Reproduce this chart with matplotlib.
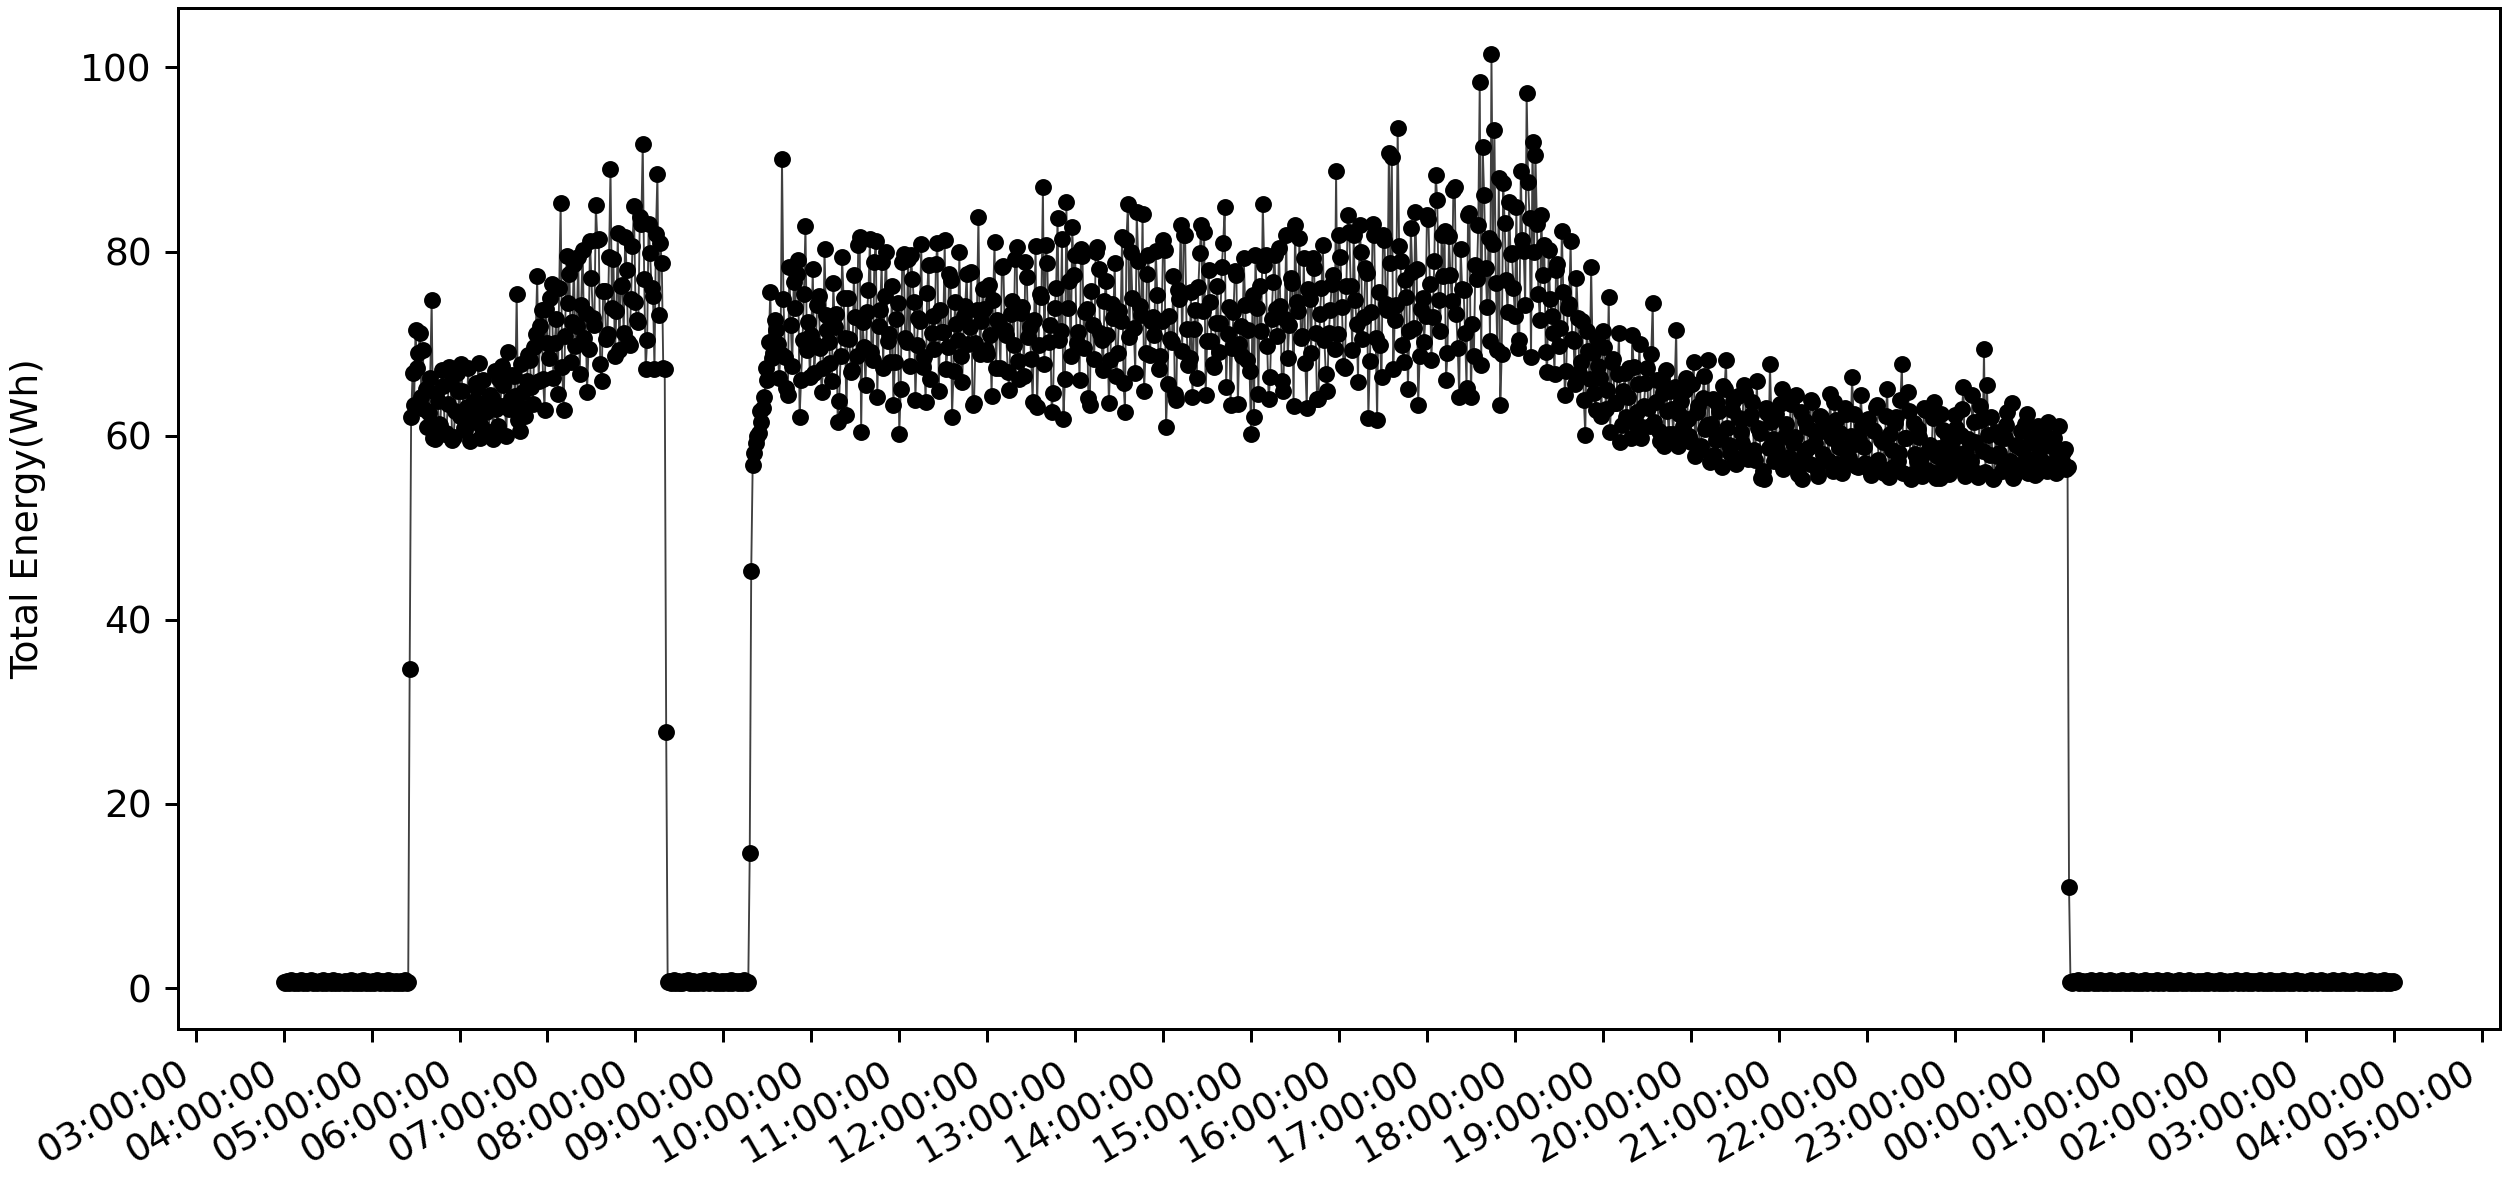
"""
Daily energy profile: total energy per 1-minute interval over 24 hours
"""
import pandas as pd
import matplotlib
matplotlib.use("Agg")
import matplotlib.pyplot as plt
import matplotlib.dates as mdates

# ---------- Data (1-minute samples) ----------
STEP = "1min"

# 04:00 - 05:25, system idle
off_early_start = "2022-03-01 04:00:00"
off_early = [
    0.7, 0.6, 0.8, 0.7, 0.6, 0.9, 0.7, 0.6, 0.8, 0.7, 0.6, 0.7, 0.9, 0.6, 0.7, 0.8, 0.6, 0.7, 0.7, 0.9,
    0.6, 0.8, 0.7, 0.6, 0.7, 0.8, 0.6, 0.9, 0.7, 0.6, 0.8, 0.7, 0.6, 0.7, 0.9, 0.6, 0.7, 0.8, 0.6, 0.7,
    0.7, 0.6, 0.8, 0.7, 0.6, 0.7, 0.9, 0.6, 0.8, 0.7, 0.6, 0.7, 0.8, 0.6, 0.9, 0.7, 0.6, 0.8, 0.7, 0.6,
    0.7, 0.8, 0.6, 0.7, 0.9, 0.7, 0.6, 0.8, 0.7, 0.6, 0.7, 0.9, 0.6, 0.8, 0.7, 0.6, 0.7, 0.8, 0.6, 0.7,
    0.8, 0.6, 0.7, 0.9, 0.6, 0.7,
]

# 05:26 - 08:21, morning run
on_morning_start = "2022-03-01 05:26:00"
on_morning = [
    34.7,
    62.0, 66.8, 63.3, 71.5, 67.4, 69.0, 71.2, 64.2, 69.3, 62.9, 65.1, 60.9, 62.5, 66.3, 74.7, 59.8, 59.6, 64.6, 63.8, 61.3,
    61.2, 67.1, 65.4, 60.2, 60.3, 63.4, 67.5, 65.7, 59.5, 59.9, 62.7, 66.8, 64.9, 62.1, 67.8, 64.9, 60.8, 60.6, 63.1, 67.4,
    59.4, 61.5, 62.2, 63.8, 65.7, 65.2, 67.9, 59.7, 61.0, 66.0, 63.6, 62.6, 60.2, 60.4, 64.4, 64.1, 59.6, 67.0, 62.9, 61.1,
    66.1, 63.2, 67.6, 65.5, 63.2, 60.0, 69.1, 62.9, 64.0, 66.6, 66.5, 64.3, 75.4, 61.7, 60.5, 67.8, 64.7, 63.0, 62.1, 65.9,
    68.8, 68.2, 65.3, 63.4, 69.6, 71.0, 77.3, 65.9, 71.9, 73.6, 66.2, 62.8, 73.8, 70.1, 68.4, 74.9, 76.5, 66.3, 70.1, 72.7,
    64.5, 76.0, 85.3, 67.5, 62.8, 70.8, 79.5, 74.4, 77.6, 68.0, 72.3, 78.6, 69.7, 71.9, 79.4, 66.7, 74.2, 80.2, 70.6, 73.3,
    64.7, 69.4, 81.1, 77.1, 72.8, 72.0, 85.0, 81.3, 81.4, 67.8, 65.9, 75.7, 75.7, 70.5, 71.0, 79.4, 89.0, 73.9, 79.2, 68.6,
    73.5, 82.0, 69.3, 76.3, 76.4, 71.2, 81.6, 78.0, 70.2, 69.9, 74.8, 80.6, 84.9, 74.5, 72.6, 72.3, 83.7, 83.0, 91.7, 77.0,
    67.2, 70.4, 83.0, 79.8, 76.0, 75.2, 67.2, 81.9, 88.4, 73.1, 80.9, 78.7, 67.3, 67.2,
    27.8,
]

# 08:22 - 09:17, pause
off_mid_start = "2022-03-01 08:22:00"
off_mid = [
    0.7, 0.8, 0.6, 0.7, 0.9, 0.6, 0.7, 0.8, 0.6, 0.7, 0.6, 0.8, 0.7, 0.7, 0.9, 0.6, 0.7, 0.8, 0.6, 0.7,
    0.7, 0.6, 0.8, 0.7, 0.6, 0.9, 0.7, 0.8, 0.6, 0.7, 0.7, 0.9, 0.6, 0.8, 0.7, 0.6, 0.7, 0.8, 0.6, 0.7,
    0.8, 0.6, 0.7, 0.9, 0.6, 0.7, 0.8, 0.7, 0.6, 0.8, 0.7, 0.6, 0.9, 0.7, 0.6, 0.7,
]

# 09:18 - 00:18, main run
on_day_start = "2022-03-01 09:18:00"
on_day = [
    14.7, 45.3,
    56.8, 58.1, 59.2, 60.0, 60.3, 62.7, 61.5, 63.0, 64.2, 67.3, 66.0, 70.2, 75.6, 68.4, 69.0, 72.6, 71.5, 70.0,
    66.3, 68.9, 90.0, 74.8, 68.5, 65.2, 64.4, 78.3, 72.0, 67.6, 76.7, 73.9, 77.6, 79.1, 62.0, 66.0, 70.4, 75.4,
    82.8, 69.3,
    # ~10:00
    72.3, 66.4, 70.9, 78.1, 66.8, 69.8, 74.2, 75.2, 69.5, 64.7, 67.3, 80.3, 73.1, 71.5, 70.2, 67.9, 65.9, 76.6, 71.8, 73.2,
    61.5, 63.8, 68.7, 79.4, 74.9, 70.6, 62.2, 74.9, 70.5, 66.9, 67.1, 77.5, 72.9, 68.7, 80.7, 81.6, 60.4, 72.3, 69.6, 65.5,
    73.4, 75.8, 81.4, 69.1, 68.2, 78.9, 81.1, 64.2, 71.9, 73.7, 78.9, 67.3, 75.2, 80.0, 70.3, 71.0, 68.0, 76.2, 63.3, 68.0,
    # ~11:00
    72.7, 74.4, 60.2, 65.1, 78.9, 79.7, 70.6, 70.2, 79.2, 67.6, 79.6, 77.0, 74.5, 63.9, 69.9, 72.8, 72.4, 80.8, 67.5, 68.5,
    63.7, 75.5, 78.5, 66.2, 71.2, 73.0, 69.4, 78.6, 80.9, 64.9, 73.6, 71.3, 71.3, 81.2, 67.2, 69.6, 77.6, 76.9, 62.0, 67.0,
    74.5, 72.1, 70.4, 79.9, 68.6, 65.8, 73.0, 74.1, 77.6, 70.0, 71.8, 77.8, 63.3, 63.5, 70.1, 73.6, 83.8, 68.9, 72.5, 75.9,
    # ~12:00
    73.8, 69.3, 68.9, 76.4, 70.9, 64.3, 74.7, 81.0, 67.4, 72.6, 72.1, 67.4, 78.3, 78.4, 71.5, 70.9, 66.9, 65.0, 73.2, 74.6,
    69.8, 79.2, 80.5, 68.1, 66.2, 73.3, 74.0, 66.5, 78.9, 77.2, 70.7, 71.8, 68.3, 63.7, 72.6, 80.6, 63.1, 69.9, 75.4, 75.1,
    87.0, 67.8, 80.7, 78.7, 70.2, 72.0, 62.6, 64.6, 73.9, 76.0, 83.6, 70.4, 71.4, 81.4, 61.8, 66.1, 85.4, 73.9, 76.8, 68.6,
    # ~13:00
    82.7, 77.4, 79.6, 70.1, 71.3, 66.0, 80.3, 79.5, 69.5, 73.4, 73.8, 64.1, 63.3, 75.7, 72.0, 68.3, 80.0, 80.5, 78.1, 71.2,
    70.4, 67.1, 74.6, 76.8, 70.9, 63.6, 68.2, 74.3, 72.8, 78.8, 66.5, 69.0, 73.5, 72.5, 81.6, 65.7, 62.6, 81.3, 85.2, 70.7,
    80.0, 75.0, 71.7, 66.8, 84.3, 79.0, 74.1, 73.1, 84.1, 64.8, 69.0, 77.6, 79.6, 68.8, 72.4, 72.9, 70.9, 80.1, 75.3, 67.2,
    # ~14:00
    68.7, 72.4, 81.2, 80.2, 60.9, 65.6, 73.0, 70.5, 70.2, 77.3, 64.5, 63.9, 75.8, 74.8, 82.9, 69.2, 81.8, 81.8, 71.6, 67.7,
    68.4, 75.6, 64.2, 71.6, 73.7, 66.3, 76.1, 79.8, 82.9, 73.5, 82.1, 64.4, 70.3, 78.0, 74.5, 70.3, 67.8, 67.5, 72.2, 76.3,
    69.1, 72.2, 78.3, 80.9, 84.8, 65.3, 71.0, 74.0, 63.3, 69.5, 73.4, 77.9, 77.4, 63.4, 70.0, 71.9, 68.6, 79.3, 74.2, 68.2,
    # ~15:00
    71.5, 67.0, 60.2, 75.3, 62.0, 79.6, 73.9, 64.5, 76.3, 71.4, 85.2, 78.5, 79.6, 69.7, 64.0, 66.4, 72.7, 76.7, 79.6, 73.8,
    70.8, 80.4, 74.1, 65.9, 64.9, 72.7, 81.8, 68.4, 72.0, 77.1, 76.6, 63.2, 82.9, 74.5, 73.5, 81.5, 70.6, 70.8, 79.3, 67.9,
    63.0, 75.9, 74.8, 69.0, 79.3, 78.2, 71.2, 64.0, 64.0, 73.2, 76.0, 80.7, 70.4, 66.7, 64.8, 71.1, 73.6, 76.5, 77.5, 69.4,
    # ~16:00
    88.7, 71.0, 81.8, 79.4, 74.0, 67.6, 67.3, 76.2, 84.0, 82.1, 76.2, 69.3, 81.8, 74.7, 72.1, 65.8, 82.9, 80.0, 70.5, 72.9,
    78.2, 77.7, 61.9, 68.1, 73.4, 83.0, 81.8, 70.6, 61.7, 75.6, 69.8, 66.4, 81.8, 81.2, 74.3, 73.7, 90.7, 78.8, 90.3, 67.2,
    72.6, 74.2, 93.4, 80.6, 79.0, 69.8, 68.0, 76.9, 75.1, 65.1, 71.4, 82.6, 77.8, 71.7, 84.3, 78.1, 63.3, 68.7, 73.8, 75.0,
    # ~17:00
    70.2, 73.0, 84.0, 83.5, 76.5, 68.2, 72.9, 79.0, 88.3, 85.6, 74.7, 71.4, 81.8, 77.3, 82.2, 66.0, 69.0, 81.7, 77.4, 74.6,
    86.7, 87.0, 73.2, 69.5, 64.2, 80.3, 75.9, 75.8, 71.1, 65.2, 84.0, 84.2, 64.2, 72.1, 68.6, 78.5, 77.0, 82.9, 98.4, 67.7,
    91.4, 86.1, 78.2, 74.0, 81.5, 70.3, 101.4, 80.8, 93.2, 76.6, 69.3, 88.0, 63.3, 68.9, 87.4, 83.1, 76.9, 73.4, 85.4, 79.7,
    # ~18:00
    79.8, 76.0, 73.0, 84.8, 69.5, 70.4, 88.7, 81.3, 80.1, 74.2, 97.2, 87.5, 83.6, 68.5, 91.9, 79.9, 90.5, 83.0, 75.4, 72.6,
    84.0, 77.4, 80.7, 69.1, 66.9, 80.2, 74.8, 73.0, 71.2, 66.7, 78.0, 78.6, 69.7, 71.7, 82.2, 75.6, 64.4, 67.0, 73.9, 74.3,
    81.1, 70.5, 70.3, 65.6, 77.1, 72.8, 66.8, 68.0, 72.4, 63.9, 60.1, 71.4, 69.2, 66.2, 78.3, 69.0, 64.6, 62.8, 70.6, 67.6,
    # ~19:00
    66.3, 62.1, 71.4, 69.6, 62.9, 65.0, 75.1, 60.4, 68.0, 68.3, 63.5, 63.5, 66.7, 71.1, 59.3, 61.2, 64.9, 66.8, 62.0, 64.2,
    67.3, 59.8, 70.9, 67.5, 61.4, 62.6, 65.6, 70.0, 59.8, 60.9, 63.2, 65.7, 67.3, 63.0, 61.0, 68.9, 74.4, 61.5, 63.7, 66.0,
    60.5, 59.4, 66.1, 64.6, 58.9, 67.1, 62.7, 60.2, 64.8, 62.9, 60.2, 65.3, 71.5, 58.9, 62.4, 63.8, 59.6, 61.0, 65.0, 66.3,
    # ~20:00
    61.8, 60.0, 59.3, 65.6, 68.0, 57.8, 62.6, 63.2, 58.4, 58.9, 64.1, 66.5, 60.7, 61.2, 68.2, 57.1, 61.3, 64.0, 57.9, 59.5,
    63.5, 62.7, 60.1, 56.6, 65.4, 65.1, 68.2, 60.8, 59.0, 58.1, 62.8, 63.8, 57.6, 56.9, 64.3, 61.9, 60.4, 59.2, 65.5, 64.6,
    58.2, 57.5, 61.9, 62.2, 63.7, 58.4, 57.4, 65.9, 60.8, 60.3, 55.4, 56.2, 55.3, 63.0, 62.5, 58.7, 67.8, 61.5, 59.6, 57.3,
    # ~21:00
    62.3, 58.6, 57.5, 63.4, 65.1, 56.4, 60.0, 61.3, 56.8, 57.7, 63.4, 64.2, 59.2, 59.9, 64.4, 55.8, 57.1, 62.6, 55.3, 58.0,
    61.6, 60.9, 58.7, 56.9, 63.9, 63.7, 60.5, 59.2, 56.4, 55.6, 62.1, 62.0, 58.0, 57.4, 61.0, 60.4, 57.3, 64.5, 59.8, 56.2,
    63.7, 61.7, 56.9, 58.8, 60.3, 55.9, 58.5, 63.0, 62.4, 57.1, 57.6, 60.0, 66.4, 62.3, 59.1, 56.7, 56.6, 59.6, 64.4, 61.1,
    # ~22:00
    58.8, 57.0, 61.2, 61.8, 56.2, 55.7, 60.6, 60.5, 63.1, 63.3, 57.4, 56.6, 59.5, 59.3, 55.9, 62.1, 65.1, 55.5, 60.2, 58.4,
    56.6, 61.4, 62.0, 57.3, 58.1, 63.9, 67.8, 56.0, 59.7, 59.8, 64.7, 62.7, 55.3, 55.8, 61.4, 58.0, 57.2, 60.7, 59.9, 57.6,
    55.6, 63.0, 62.8, 56.3, 58.3, 59.0, 56.1, 61.9, 63.7, 55.4, 57.8, 58.7, 55.4, 62.4, 60.6, 56.8, 58.9, 60.2, 55.8, 57.9,
    # ~23:00
    59.4, 56.5, 62.2, 60.8, 57.0, 58.0, 60.1, 62.9, 65.3, 55.6, 58.2, 59.6, 56.0, 57.2, 64.4, 61.5, 59.3, 55.9, 55.5, 63.2,
    61.7, 58.3, 69.4, 56.1, 65.5, 60.1, 57.9, 62.0, 55.3, 55.5, 60.4, 57.8, 58.1, 59.9, 56.2, 56.4, 59.8, 61.2, 62.6, 57.0,
    57.3, 63.6, 55.4, 55.8, 59.0, 58.9, 56.8, 60.5, 58.6, 56.9, 61.3, 62.3, 56.0, 57.5, 59.7, 59.2, 57.4, 55.7, 55.9, 61.0,
    # ~00:00
    58.5, 57.0, 57.1, 60.3, 59.9, 56.2, 61.5, 59.4, 56.6, 58.8, 59.7, 55.9, 57.8, 61.0, 58.4, 57.3, 58.2, 58.6, 56.4, 56.6,
    11.0,
]

# 00:19 - 04:00, idle overnight
off_night_start = "2022-03-02 00:19:00"
off_night = [
    0.7, 0.6, 0.8, 0.7, 0.7, 0.9, 0.6, 0.7, 0.8, 0.6, 0.7, 0.8, 0.6, 0.7, 0.9, 0.7, 0.6, 0.8, 0.7, 0.6,
    0.9, 0.7, 0.6, 0.7, 0.8, 0.6, 0.7, 0.9, 0.6, 0.8, 0.7, 0.6, 0.7, 0.8, 0.6, 0.9, 0.7, 0.6, 0.8, 0.7,
    0.6, 0.7, 0.9, 0.6, 0.8, 0.7, 0.6, 0.7, 0.8, 0.6, 0.7, 0.9, 0.6, 0.7, 0.8, 0.7, 0.6, 0.8, 0.7, 0.9,
    0.6, 0.7, 0.8, 0.6, 0.7, 0.7, 0.9, 0.6, 0.8, 0.7, 0.6, 0.7, 0.8, 0.6, 0.9, 0.7, 0.6, 0.8, 0.7, 0.6,
    0.7, 0.9, 0.6, 0.8, 0.7, 0.6, 0.7, 0.8, 0.6, 0.7, 0.8, 0.6, 0.7, 0.9, 0.6, 0.7, 0.8, 0.7, 0.6, 0.8,
    0.7, 0.6, 0.9, 0.7, 0.6, 0.8, 0.7, 0.6, 0.7, 0.8, 0.6, 0.7, 0.8, 0.9, 0.6, 0.7, 0.7, 0.8, 0.6, 0.7,
    0.9, 0.6, 0.7, 0.8, 0.6, 0.7, 0.8, 0.7, 0.6, 0.9, 0.7, 0.6, 0.8, 0.7, 0.6, 0.7, 0.9, 0.6, 0.8, 0.7,
    0.6, 0.8, 0.7, 0.6, 0.7, 0.9, 0.6, 0.7, 0.8, 0.6, 0.7, 0.8, 0.6, 0.7, 0.9, 0.7, 0.6, 0.8, 0.7, 0.6,
    0.7, 0.6, 0.8, 0.7, 0.9, 0.6, 0.7, 0.8, 0.6, 0.7, 0.7, 0.9, 0.6, 0.8, 0.7, 0.6, 0.7, 0.8, 0.6, 0.9,
    0.7, 0.6, 0.8, 0.7, 0.6, 0.7, 0.9, 0.6, 0.8, 0.7, 0.6, 0.7, 0.8, 0.6, 0.7, 0.9, 0.7, 0.6, 0.8, 0.7,
    0.6, 0.7, 0.8, 0.6, 0.9, 0.7, 0.6, 0.8, 0.7, 0.6, 0.7, 0.8, 0.6, 0.7, 0.9, 0.6, 0.7, 0.8, 0.6, 0.7,
    0.8, 0.7,
]

SEGMENTS = [
    (off_early_start, off_early),
    (on_morning_start, on_morning),
    (off_mid_start, off_mid),
    (on_day_start, on_day),
    (off_night_start, off_night),
]


def build_series() -> pd.Series:
    parts = []
    for start, vals in SEGMENTS:
        idx = pd.date_range(start, periods=len(vals), freq=STEP)
        parts.append(pd.Series(vals, index=idx))
    return pd.concat(parts)


def plot_energy(s: pd.Series, save_path: str = "out.png"):
    dpi = 270
    fig = plt.figure(figsize=(2508 / dpi, 1182 / dpi), dpi=dpi)
    ax = fig.add_axes([0.071, 0.1294, 0.9258, 0.8638])
    ax.plot(s.index, s.values, color="0.25", linewidth=0.5,
            marker="o", markersize=3.5, markerfacecolor="black", markeredgecolor="black")
    ax.set_ylabel("Total Energy(Wh)")
    ax.yaxis.set_label_coords(-0.057, 0.5)
    ax.xaxis.set_major_locator(mdates.HourLocator(interval=1))
    ax.xaxis.set_major_formatter(mdates.DateFormatter("%H:%M:%S"))
    plt.setp(ax.get_xticklabels(), rotation=30, ha="right")
    fig.savefig(save_path, dpi=dpi)
    plt.close(fig)


if __name__ == "__main__":
    plot_energy(build_series())
